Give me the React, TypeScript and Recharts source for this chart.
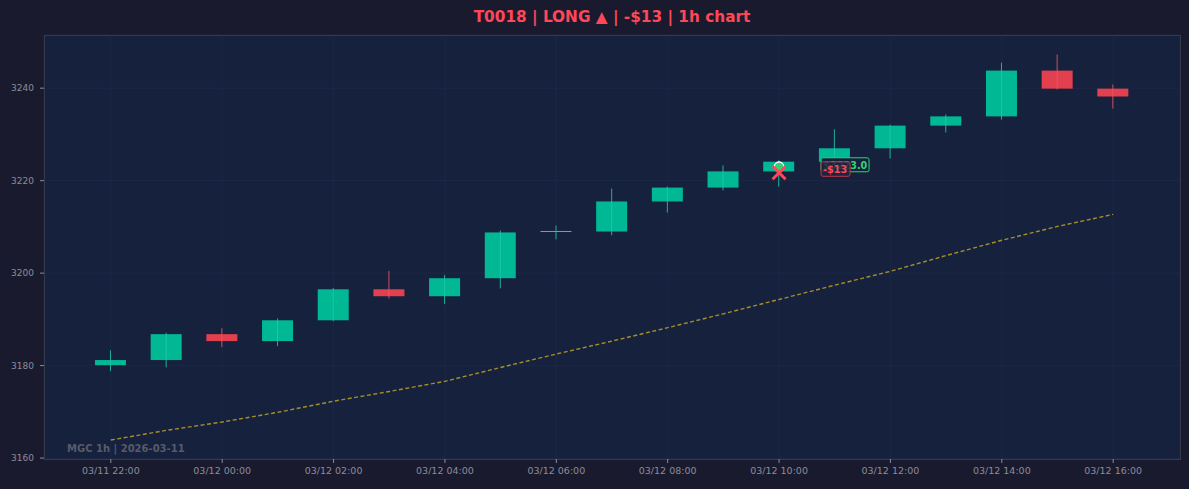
import { ComposedChart, Bar, Line, Scatter, XAxis, YAxis, CartesianGrid } from "recharts";

// hourly bars, MGC 1h
const times = [
  "03/11 22:00", "03/11 23:00", "03/12 00:00", "03/12 01:00", "03/12 02:00",
  "03/12 03:00", "03/12 04:00", "03/12 05:00", "03/12 06:00", "03/12 07:00",
  "03/12 08:00", "03/12 09:00", "03/12 10:00", "03/12 11:00", "03/12 12:00",
  "03/12 13:00", "03/12 14:00", "03/12 15:00", "03/12 16:00",
];
const opens = [
  3180.1, 3181.2, 3186.8, 3185.3, 3189.8, 3196.5, 3195.0, 3198.9, 3209.0, 3209.0,
  3215.5, 3218.5, 3222.0, 3224.1, 3227.0, 3231.9, 3233.9, 3243.8, 3239.9,
];
const highs = [
  3183.3, 3187.1, 3188.1, 3190.2, 3196.8, 3200.5, 3199.6, 3209.2, 3210.3, 3218.3,
  3218.7, 3223.3, 3224.4, 3231.1, 3232.1, 3234.3, 3245.5, 3247.3, 3240.8,
];
const lows = [
  3178.8, 3179.6, 3184.0, 3184.2, 3189.6, 3194.5, 3193.3, 3196.7, 3207.3, 3208.2,
  3213.1, 3217.9, 3218.7, 3223.6, 3224.8, 3230.4, 3233.2, 3239.7, 3235.6,
];
const closes = [
  3181.2, 3186.8, 3185.3, 3189.8, 3196.5, 3195.0, 3198.9, 3208.8, 3209.0, 3215.5,
  3218.5, 3222.0, 3224.1, 3227.0, 3231.9, 3233.9, 3243.8, 3239.9, 3238.2,
];
const emaValues = [
  3163.9, 3166.0, 3167.8, 3169.9, 3172.3, 3174.4, 3176.6, 3179.6, 3182.5, 3185.3,
  3188.2, 3191.2, 3194.3, 3197.4, 3200.4, 3203.8, 3207.1, 3210.1, 3212.7,
];
const xTicks = [0, 2, 4, 6, 8, 10, 12, 14, 16, 18];
const yTicks = [3160, 3180, 3200, 3220, 3240];

const entryPoints = [{ idx: 12, price: 3223.0, label: "$3223.0" }];
const exitPoints = [{ idx: 12, price: 3221.7, label: "-$13" }];

const candles = times.map((t, i) => ({
  idx: i,
  time: t,
  open: opens[i],
  high: highs[i],
  low: lows[i],
  close: closes[i],
  ema: emaValues[i],
}));

const UP = "#00b894";
const DOWN = "#e2404f";
const UP_WICK = "#20c9a8";
const DOWN_WICK = "#f05565";
const TICK = "#8a8d99";

// eslint-disable-next-line @typescript-eslint/no-explicit-any
function Candle(props: any) {
  const { x, y, width, height, payload } = props;
  const top = Math.min(y, y + height);
  const bottom = Math.max(y, y + height);
  const range = payload.high - payload.low;
  const k = range > 0 ? (bottom - top) / range : 0;
  const yOf = (v: number) => top + (payload.high - v) * k;
  const up = payload.close >= payload.open;
  const bodyTop = yOf(Math.max(payload.open, payload.close));
  const bodyBottom = yOf(Math.min(payload.open, payload.close));
  const cx = x + width / 2;
  const h = bodyBottom - bodyTop;
  return (
    <g>
      {h >= 1 ? (
        <rect x={x} y={bodyTop} width={width} height={h} fill={up ? UP : DOWN} />
      ) : (
        <line x1={x} x2={x + width} y1={bodyTop} y2={bodyTop} stroke={up ? UP_WICK : DOWN} strokeWidth={1} />
      )}
      <line x1={cx} x2={cx} y1={top} y2={bottom} stroke={up ? UP_WICK : DOWN_WICK} strokeWidth={1} strokeOpacity={0.85} />
    </g>
  );
}

// eslint-disable-next-line @typescript-eslint/no-explicit-any
function EntryMark(props: any) {
  const { cx, cy, payload } = props;
  return (
    <g>
      <circle cx={cx} cy={cy} r={4.8} fill="#2ed573" stroke="#ffffff" strokeWidth={1.3} />
      <rect x={cx + 42} y={cy - 9} width={48} height={14} rx={2} fill="#16213e" stroke="#2ed573" strokeWidth={1} />
      <text x={cx + 44.5} y={cy + 2.5} fill="#2ed573" fontSize={9.6} fontWeight="bold" fontFamily="DejaVu Sans">
        {payload.label}
      </text>
    </g>
  );
}

// eslint-disable-next-line @typescript-eslint/no-explicit-any
function ExitMark(props: any) {
  const { cx, cy, payload } = props;
  const s = 6.5;
  return (
    <g>
      <line x1={cx - s} y1={cy - s} x2={cx + s} y2={cy + s} stroke="#ff4757" strokeWidth={3} />
      <line x1={cx - s} y1={cy + s} x2={cx + s} y2={cy - s} stroke="#ff4757" strokeWidth={3} />
      <rect x={cx + 42} y={cy - 11} width={29} height={14.5} rx={2} fill="#1e2240" fillOpacity={0.85} stroke="#c0394a" strokeWidth={1} />
      <text x={cx + 44} y={cy + 0.5} fill="#ff4757" fontSize={9.6} fontWeight="bold" fontFamily="DejaVu Sans">
        {payload.label}
      </text>
    </g>
  );
}

export default function App() {
  return (
    <div
      style={{
        position: "absolute",
        left: 0,
        top: 0,
        width: 1189,
        height: 489,
        background: "#1a1a2e",
        fontFamily: "DejaVu Sans",
        overflow: "hidden",
      }}
    >
      <div
        style={{
          position: "absolute",
          left: 44,
          top: 35,
          width: 1135,
          height: 423,
          background: "#16213e",
          border: "1px solid #3a3d4c",
        }}
      />
      <div
        style={{
          position: "absolute",
          left: 44,
          width: 1136,
          top: 8,
          textAlign: "center",
          color: "#ff4757",
          fontWeight: "bold",
          fontSize: 15.3,
          lineHeight: "18px",
        }}
      >
        T0018 | LONG ▲ | -$13 | 1h chart
      </div>
      <div style={{ position: "absolute", left: 0, top: 0 }}>
        <ComposedChart
          width={1189}
          height={489}
          data={candles}
          margin={{ top: 35, right: 9, bottom: 0, left: 0 }}
        >
          <CartesianGrid stroke="#22304e" strokeOpacity={0.45} />
          <XAxis
            dataKey="idx"
            type="number"
            domain={[-1.2, 19.2]}
            ticks={xTicks}
            tickFormatter={(v: number) => times[v] ?? ""}
            interval={0}
            height={30}
            axisLine={false}
            tickSize={4}
            tickMargin={4}
            tickLine={{ stroke: TICK }}
            tick={{ fill: TICK, fontSize: 9.5, fontFamily: "DejaVu Sans" }}
            allowDataOverflow
          />
          <YAxis
            type="number"
            domain={[3159.8, 3251.5]}
            ticks={yTicks}
            width={44}
            axisLine={false}
            tickSize={4}
            tickMargin={6}
            tickLine={{ stroke: TICK }}
            tick={{ fill: TICK, fontSize: 9, fontFamily: "DejaVu Sans" }}
            allowDataOverflow
          />
          <Line
            dataKey="ema"
            stroke="#c9aa22"
            strokeOpacity={0.8}
            strokeWidth={1.4}
            strokeDasharray="4 2.5"
            dot={false}
            isAnimationActive={false}
          />
          <Bar
            dataKey={(d: { low: number; high: number }) => [d.low, d.high]}
            barSize={31}
            shape={Candle}
            isAnimationActive={false}
          />
          <Scatter data={entryPoints} dataKey="price" shape={EntryMark} isAnimationActive={false} />
          <Scatter data={exitPoints} dataKey="price" shape={ExitMark} isAnimationActive={false} />
        </ComposedChart>
      </div>
      <div
        style={{
          position: "absolute",
          left: 67,
          top: 443,
          color: "#575b69",
          fontWeight: "bold",
          fontSize: 10,
          lineHeight: "12px",
        }}
      >
        MGC 1h | 2026-03-11
      </div>
    </div>
  );
}
